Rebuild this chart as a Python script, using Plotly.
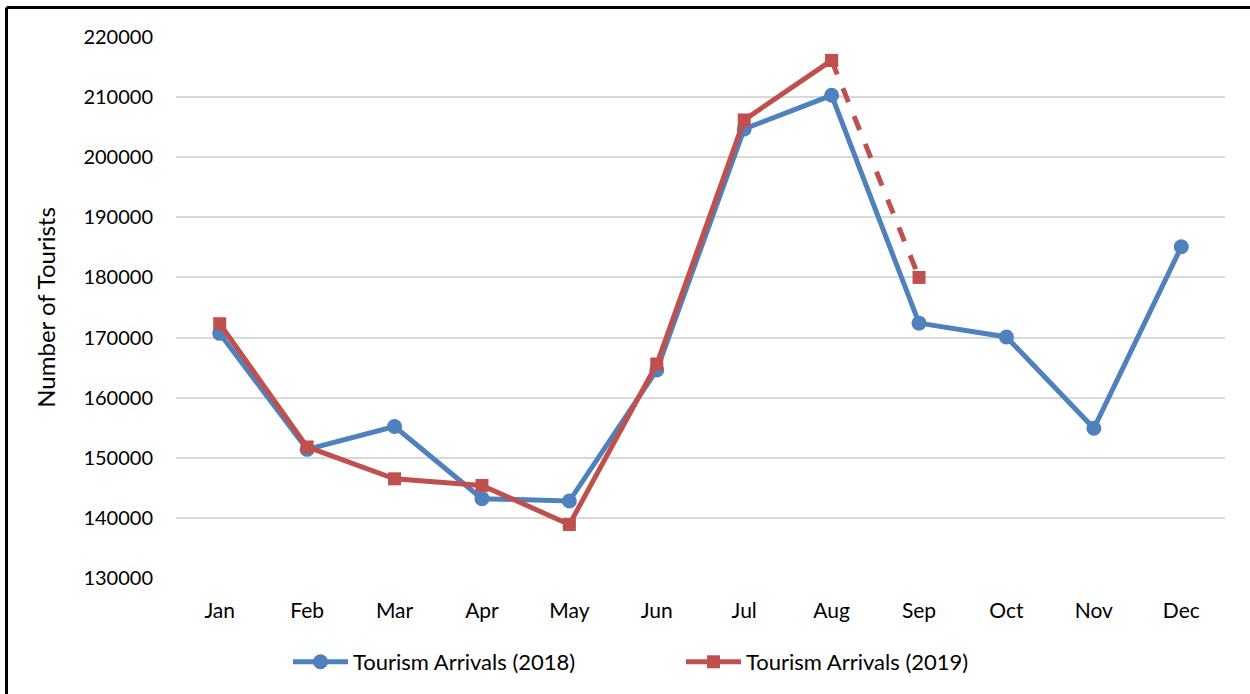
import plotly.graph_objects as go

months = ["Jan", "Feb", "Mar", "Apr", "May", "Jun", "Jul", "Aug", "Sep", "Oct", "Nov", "Dec"]
arrivals_2018 = [170700, 151400, 155200, 143200, 142800, 164600, 204700, 210300, 172400, 170100, 154900, 185100]
arrivals_2019 = [172300, 151800, 146500, 145400, 138900, 165600, 206200, 216100]
arrivals_2019_proj_months = ["Aug", "Sep"]
arrivals_2019_proj = [216100, 180000]
y_ticks = list(range(130000, 220001, 10000))

blue = "#4F81BD"
red = "#C0504D"
font_family = "Lato, 'Open Sans', sans-serif"

fig = go.Figure()
fig.add_trace(go.Scatter(
    x=months, y=arrivals_2018, mode="lines+markers",
    name="Tourism Arrivals (2018)", legend="legend",
    line=dict(color=blue, width=5),
    marker=dict(symbol="circle", size=15, color=blue),
))
fig.add_trace(go.Scatter(
    x=arrivals_2019_proj_months, y=arrivals_2019_proj, mode="lines+markers",
    showlegend=False,
    line=dict(color=red, width=5, dash="dash"),
    marker=dict(symbol="square", size=13, color=red),
))
fig.add_trace(go.Scatter(
    x=months[:len(arrivals_2019)], y=arrivals_2019, mode="lines+markers",
    name="Tourism Arrivals (2019)", legend="legend2",
    line=dict(color=red, width=5),
    marker=dict(symbol="square", size=13, color=red),
))

l, r, t, b = 176, 25, 37, 116
W, H = 1250, 694
pw, ph = W - l - r, H - t - b
bx = (6.5 - l) / pw
by = 1 + (t - 7.5) / ph
leg_y = (H - b - 662) / ph

legend_common = dict(orientation="h", y=leg_y, yanchor="middle", xanchor="left",
                     font=dict(size=22), bgcolor="rgba(0,0,0,0)", itemwidth=55)

fig.update_layout(
    width=W, height=H,
    margin=dict(l=l, r=r, t=t, b=b, autoexpand=False),
    paper_bgcolor="white", plot_bgcolor="white",
    font=dict(family=font_family, size=20, color="#000000"),
    xaxis=dict(
        type="category", categoryorder="array", categoryarray=months,
        range=[-0.5, len(months) - 0.5],
        showgrid=False, showline=False, zeroline=False, automargin=False,
        ticks="", tickfont=dict(size=21), ticklabelstandoff=18,
    ),
    yaxis=dict(
        range=[130000, 220000], tickvals=y_ticks,
        tickformat="d", automargin=False,
        showgrid=True, gridcolor="#D9D9D9", gridwidth=1.5,
        zeroline=False, showline=False, ticks="",
        tickfont=dict(size=20), ticklabelstandoff=22,
        title=dict(text="Number of Tourists", font=dict(size=24), standoff=20),
    ),
    legend=dict(x=(288 - l) / pw, **legend_common),
    legend2=dict(x=(681 - l) / pw, **legend_common),
    showlegend=True,
    shapes=[
        dict(type="line", xref="paper", yref="paper", x0=bx, x1=bx, y0=-0.5, y1=by,
             line=dict(color="black", width=3)),
        dict(type="line", xref="paper", yref="paper", x0=bx, x1=1.2, y0=by, y1=by,
             line=dict(color="black", width=3)),
    ],
)

fig.write_html("out.html", config={"displayModeBar": False},
               post_script="document.body.style.margin='0';")
